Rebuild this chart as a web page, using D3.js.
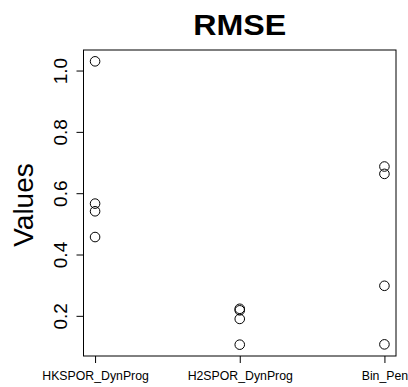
<!DOCTYPE html>
<html>
<head>
<meta charset="utf-8">
<script src="https://cdn.jsdelivr.net/npm/d3@7"></script>
<style>
  body { margin: 0; background: #fff; }
  text { font-family: "Liberation Sans", Arial, sans-serif; fill: #000; }
</style>
</head>
<body>
<div id="chart"></div>
<script>
var categories = ["HKSPOR_DynProg", "H2SPOR_DynProg", "Bin_Pen"];
var hksporValues = [1.03, 0.566, 0.541, 0.457];
var h2sporValues = [0.223, 0.218, 0.19, 0.106];
var binPenValues = [0.687, 0.663, 0.298, 0.107];
var yTicks = [0.2, 0.4, 0.6, 0.8, 1.0];

function drawStrip() {
    var series = [hksporValues, h2sporValues, binPenValues];
    var points = [];
    series.forEach(function(vals, i) {
        vals.forEach(function(v) { points.push({ cat: i + 1, value: v }); });
    });

    var width = 408, height = 387,
        mLeft = 83.5, mRight = 396, mTop = 50, mBottom = 356;

    var svg = d3.select("#chart").append("svg")
        .attr("width", width).attr("height", height);

    // R style 4% padding of the data range
    var ext = d3.extent(points, function(d) { return d.value; }),
        pad = (ext[1] - ext[0]) * 0.04;

    var x = d3.scaleLinear()
        .domain([1 - 0.08, categories.length + 0.08])
        .range([mLeft, mRight]);

    var y = d3.scaleLinear()
        .domain([ext[0] - pad, ext[1] + pad])
        .range([mBottom, mTop]);

    // y axis
    var yAxis = svg.append("g")
        .attr("transform", "translate(" + mLeft + ",0)")
        .call(d3.axisLeft(y).tickValues(yTicks).tickFormat(d3.format(".1f")).tickSize(7).tickPadding(0));
    yAxis.select(".domain").remove();
    yAxis.selectAll(".tick line").attr("stroke", "#000");
    yAxis.selectAll(".tick text")
        .attr("x", null).attr("dy", null)
        .attr("transform", "translate(-16.5,0) rotate(-90)")
        .attr("text-anchor", "middle")
        .style("font-family", "'Liberation Sans', Arial, sans-serif")
        .style("font-size", "19px");

    // x axis
    var xAxis = svg.append("g")
        .attr("transform", "translate(0," + mBottom + ")")
        .call(d3.axisBottom(x).tickValues([1, 2, 3])
            .tickFormat(function(d) { return categories[d - 1]; })
            .tickSize(7).tickPadding(8));
    xAxis.select(".domain").remove();
    xAxis.selectAll(".tick line").attr("stroke", "#000");
    xAxis.selectAll(".tick text")
        .style("font-family", "'Liberation Sans', Arial, sans-serif")
        .style("font-size", "12.3px");

    // box
    svg.append("rect")
        .attr("x", mLeft).attr("y", mTop)
        .attr("width", mRight - mLeft).attr("height", mBottom - mTop)
        .attr("fill", "none").attr("stroke", "#000").attr("stroke-width", 1);

    svg.selectAll("circle.pt")
        .data(points)
        .enter().append("circle")
        .attr("class", "pt")
        .attr("cx", function(d) { return x(d.cat); })
        .attr("cy", function(d) { return y(d.value); })
        .attr("r", 4.8)
        .attr("fill", "none")
        .attr("stroke", "#000")
        .attr("stroke-width", 1);

    svg.append("text")
        .attr("x", (mLeft + mRight) / 2).attr("y", 34.5)
        .attr("text-anchor", "middle")
        .attr("textLength", 93).attr("lengthAdjust", "spacingAndGlyphs")
        .style("font-size", "29.5px").style("font-weight", "bold")
        .text("RMSE");

    svg.append("text")
        .attr("transform", "translate(33.3,205) rotate(-90)")
        .attr("text-anchor", "middle")
        .style("font-size", "28px")
        .text("Values");
}

drawStrip();
</script>
</body>
</html>
